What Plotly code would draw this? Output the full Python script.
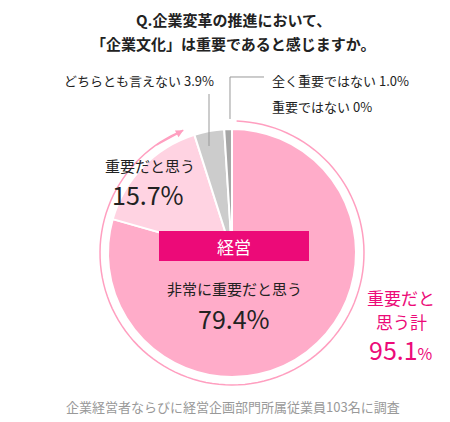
import numpy as np
import plotly.graph_objects as go

labels = ["非常に重要だと思う", "重要だと思う", "どちらとも言えない", "全く重要ではない", "重要ではない"]
values = [79.4, 15.7, 3.9, 1.0, 0.0]
colors = ["#ffacc9", "#ffd3e2", "#cccccc", "#a6a6a6", "#888888"]
total_label = "95.1"

W, H = 450, 422
cx, cy, r = 224, 245, 124

fig = go.Figure(go.Pie(
    values=values, labels=labels, sort=False, direction="clockwise", rotation=0,
    marker=dict(colors=colors, line=dict(color="white", width=2)),
    textinfo="none", hoverinfo="label+value", showlegend=False,
    domain=dict(x=[(cx - r) / W, (cx + r) / W], y=[1 - (cy + r) / H, 1 - (cy - r) / H]),
))

def px(x, y):
    return x / W, 1 - y / H

# outer arc (重要だと思う計)
R = 132
ang = np.linspace(np.radians(2), np.radians(360 * 0.951 - 4), 120)
pix = [(cx + R * np.sin(a), cy - R * np.cos(a)) for a in ang]
pts = [px(*p) for p in pix]
path = "M " + " L ".join(f"{x:.4f},{y:.4f}" for x, y in pts)
shapes = [dict(type="path", path=path, xref="paper", yref="paper",
               line=dict(color="#ff9fc0", width=1.5))]
ex, ey = pts[-1]
dx, dy = pix[-6][0] - pix[-1][0], pix[-6][1] - pix[-1][1]
ann = [dict(x=ex, y=ey, ax=dx, ay=dy, xref="paper", yref="paper",
            showarrow=True, arrowhead=2, arrowsize=1,
            arrowwidth=1.5, arrowcolor="#ff9fc0", text="")]

# banner
x0, y0 = px(151, 223)
x1, y1 = px(301, 253)
shapes.append(dict(type="rect", xref="paper", yref="paper", x0=x0, x1=x1, y0=y1, y1=y0,
                   fillcolor="#ec0a78", line=dict(width=0)))

# leader lines
for seg in [[(201, 86), (201, 138)], [(222, 111), (222, 69), (256, 69)]]:
    p = [px(*s) for s in seg]
    shapes.append(dict(type="path", xref="paper", yref="paper",
                       path="M " + " L ".join(f"{a:.4f},{b:.4f}" for a, b in p),
                       line=dict(color="#999999", width=1)))

def t(x, y, s, size, color="#222222", anchor="center"):
    a, b = px(x, y)
    ann.append(dict(x=a, y=b, xref="paper", yref="paper", text=s, showarrow=False,
                    xanchor=anchor, yanchor="middle", font=dict(size=size, color=color)))

t(225, 12, "<b>Q.企業変革の推進において、</b>", 15)
t(225, 35, "<b>「企業文化」は重要であると感じますか。</b>", 15)
t(208, 72, f"{labels[2]} {values[2]}%", 13, anchor="right")
t(262, 72, f"{labels[3]} {values[3]}%", 13, anchor="left")
t(262, 98, f"{labels[4]} {values[4]:.0f}%", 13, anchor="left")
t(142, 157, labels[1], 15)
t(140, 186, f"{values[1]}%", 25)
t(226, 238, "経営", 17, "white")
t(226, 280, labels[0], 15)
t(226, 310, f"{values[0]}%", 25)
t(393, 289, "重要だと", 17, "#ec0a78")
t(393, 313, "思う計", 17, "#ec0a78")
t(393, 341, f"{total_label}<span style='font-size:16px'>%</span>", 25, "#ec0a78")
t(225, 398, "企業経営者ならびに経営企画部門所属従業員103名に調査", 13, "#999999")

fig.update_layout(width=W, height=H, margin=dict(l=0, r=0, t=0, b=0),
                  paper_bgcolor="white", plot_bgcolor="white",
                  font=dict(family="Noto Sans CJK JP"), shapes=shapes, annotations=ann)
fig.write_html("out.html")
